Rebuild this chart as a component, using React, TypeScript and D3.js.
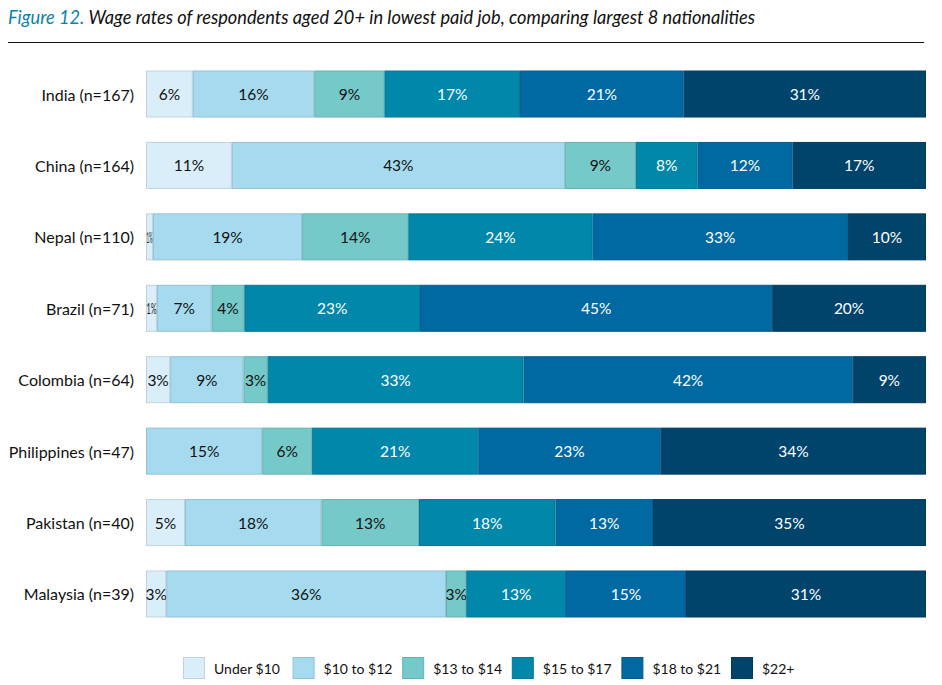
import * as d3 from "d3";

// categories (top to bottom)
const countries = [
    "India (n=167)",
    "China (n=164)",
    "Nepal (n=110)",
    "Brazil (n=71)",
    "Colombia (n=64)",
    "Philippines (n=47)",
    "Pakistan (n=40)",
    "Malaysia (n=39)",
];

const wageBands = ["Under $10", "$10 to $12", "$13 to $14", "$15 to $17", "$18 to $21", "$22+"];

// percentages per wage band, in country order
const under10 = [6.0, 11.0, 0.9, 1.4, 3.1, 0, 5.0, 2.6];
const from10to12 = [15.6, 42.7, 19.1, 7.0, 9.4, 14.9, 17.5, 35.9];
const from13to14 = [9.0, 9.1, 13.6, 4.2, 3.1, 6.4, 12.5, 2.6];
const from15to17 = [17.4, 7.9, 23.6, 22.5, 32.8, 21.3, 17.5, 12.8];
const from18to21 = [21.0, 12.2, 32.7, 45.1, 42.2, 23.4, 12.5, 15.4];
const over22 = [31.1, 17.1, 10.0, 19.7, 9.4, 34.0, 35.0, 30.8];

const seriesValues = [under10, from10to12, from13to14, from15to17, from18to21, over22];

const colors = ["#daeefa", "#a6dbef", "#76c9c9", "#0087aa", "#0069a2", "#00436b"];
const textColors = ["#111", "#111", "#111", "#fff", "#fff", "#fff"];

const W = 942;
const H = 685;
const FONT = "'Lato', 'Open Sans', 'Noto Sans', sans-serif";
const TITLE_FONT = "'Liberation Sans Narrow', 'Lato', sans-serif";

type Row = { country: string } & Record<string, number | string>;

export default function App() {
    const rows: Row[] = countries.map((c, i) => {
        const r: Row = { country: c } as Row;
        wageBands.forEach((k, j) => (r[k] = seriesValues[j][i]));
        return r;
    });

    const stack = d3
        .stack<Row>()
        .keys(wageBands)
        .value((d, k) => d[k] as number)
        .offset(d3.stackOffsetExpand);
    const layers = stack(rows);

    const x = d3.scaleLinear().domain([0, 1]).range([146, 926]);
    const y = d3.scaleBand<string>().domain(countries).range([58.3, 629.7]).paddingInner(0.342).paddingOuter(0.171);
    const bw = y.bandwidth();

    const legendX = d3.scalePoint<string>().domain(wageBands).range([183, 731]);

    return (
        <svg width={W} height={H} style={{ position: "absolute", left: 0, top: 0, background: "#fff" }}>
            <text
                x={8}
                y={24}
                fontFamily={TITLE_FONT}
                fontStyle="italic"
                fontSize={19}
                textLength={747}
                lengthAdjust="spacingAndGlyphs"
            >
                <tspan fill="#0a84a6">Figure 12. </tspan>
                <tspan fill="#111">Wage rates of respondents aged 20+ in lowest paid job, comparing largest 8 nationalities</tspan>
            </text>
            <line x1={8} x2={924} y1={42.5} y2={42.5} stroke="#111" strokeWidth={1} />

            {countries.map((c) => (
                <text
                    key={c}
                    x={134}
                    y={(y(c) ?? 0) + bw / 2}
                    textAnchor="end"
                    dominantBaseline="central"
                    fontFamily={FONT}
                    fontSize={16}
                    fill="#111"
                >
                    {c}
                </text>
            ))}

            {layers.map((layer, li) => {
                const fill = colors[li];
                const stroke = d3.color(fill)!.darker(0.35).formatHex();
                return (
                    <g key={layer.key}>
                        {layer.map((seg, i) => {
                            const x0 = x(seg[0]);
                            const x1 = x(seg[1]);
                            const w = x1 - x0;
                            if (w <= 0) return null;
                            const yy = y(seg.data.country) ?? 0;
                            const val = seg.data[layer.key] as number;
                            const label = `${Math.round(val)}%`;
                            const est = label.length * 8;
                            const squeeze = est > w - 2;
                            return (
                                <g key={i}>
                                    <rect
                                        x={x0 + 0.5}
                                        y={yy + 0.5}
                                        width={w - 1}
                                        height={bw - 1}
                                        fill={fill}
                                        stroke={stroke}
                                        strokeWidth={1}
                                    />
                                    <text
                                        x={(x0 + x1) / 2}
                                        y={yy + bw / 2}
                                        textAnchor="middle"
                                        dominantBaseline="central"
                                        fontFamily={FONT}
                                        fontSize={15.5}
                                        fill={textColors[li]}
                                        textLength={squeeze ? Math.max(6, w - 1) : undefined}
                                        lengthAdjust={squeeze ? "spacingAndGlyphs" : undefined}
                                    >
                                        {label}
                                    </text>
                                </g>
                            );
                        })}
                    </g>
                );
            })}

            {wageBands.map((k, i) => {
                const lx = legendX(k) ?? 0;
                return (
                    <g key={k}>
                        <rect
                            x={lx + 0.5}
                            y={657.5}
                            width={21}
                            height={21}
                            fill={colors[i]}
                            stroke={d3.color(colors[i])!.darker(0.35).formatHex()}
                        />
                        <text
                            x={lx + 31}
                            y={668}
                            dominantBaseline="central"
                            fontFamily={FONT}
                            fontSize={14}
                            fill="#111"
                        >
                            {k}
                        </text>
                    </g>
                );
            })}
        </svg>
    );
}
